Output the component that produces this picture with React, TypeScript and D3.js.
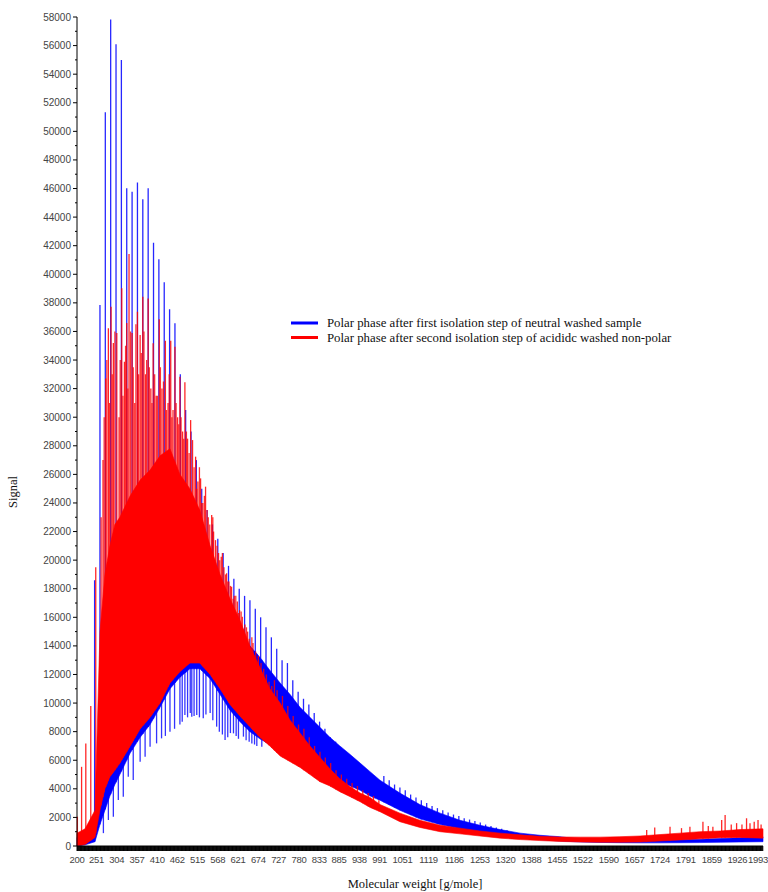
import React from 'react';
import * as d3 from 'd3';

const W = 768;
const H = 892;

const xTickLabels = [200, 251, 304, 357, 410, 462, 515, 568, 621, 674, 727, 780, 833, 885, 938, 991, 1051, 1119, 1186, 1253, 1320, 1388, 1455, 1522, 1590, 1657, 1724, 1791, 1859, 1926, 1993];
const yTickValues = d3.range(0, 58001, 2000);
const yMinorValues = d3.range(1000, 58000, 2000);

// envelope sample positions (molecular weight, g/mole)
const gridMz = [200, 221, 247, 260, 273, 286, 299, 312, 339, 365, 391, 417, 443, 469, 495, 521, 548, 574, 600, 626, 652, 678, 704, 731, 757, 783, 809, 835, 861, 887, 914, 940, 966, 992, 1044, 1096, 1149, 1201, 1253, 1306, 1358, 1410, 1462, 1515, 1567, 1619, 1672, 1724, 1776, 1828, 1881, 1933, 1993];

// blue: polar phase after first isolation step of neutral washed sample
const blueLo = [0, 80, 300, 1500, 2500, 3500, 4300, 5000, 6500, 7600, 8500, 9700, 11000, 11800, 12400, 12400, 11700, 10600, 9500, 8700, 8000, 7500, 7100, 6700, 6400, 6100, 5600, 5200, 4800, 4500, 4200, 3900, 3500, 3200, 2500, 1900, 1500, 1200, 950, 750, 600, 450, 350, 280, 250, 230, 220, 220, 230, 240, 260, 280, 300];
const blueHi = [600, 800, 1500, 4500, 7000, 9000, 10500, 11500, 13000, 14500, 15500, 16500, 17200, 17500, 17300, 16800, 16200, 15500, 15000, 14500, 14000, 13200, 12300, 11400, 10600, 9700, 9000, 8300, 7600, 7000, 6400, 5800, 5200, 4600, 3700, 2900, 2300, 1800, 1450, 1150, 900, 750, 650, 480, 430, 420, 420, 430, 450, 480, 520, 580, 650];
const blueSpikeStart = 246;
const blueSpikeStep = 14;
const blueSpikes = [18600, 37850, 51330, 57830, 56090, 54990, 46010, 45780, 46420, 45250, 46010, 42210, 41050, 39440, 37550, 36570, 33000, 30500, 29000, 27000, 25000, 23500, 22500, 21500, 20500, 19600, 18700, 18000, 17500, 17200, 16600, 16000, 15300, 14600, 13800, 13000, 12800, 11600, 10800, 10300, 9900, 9300, 8700, 8200, 7600, 7300, 6900, 6500, 6100, 5800, 5500, 5100, 4800, 4600, 4900, 4600, 4300, 4100, 3900, 3600, 3400, 3200, 3000, 2800, 2650, 2500, 2350, 2200, 2100, 1950, 1850, 1750, 1650, 1500, 1400, 1300, 1200, 1100];
const blueDipMz = [269, 282, 295, 308, 321, 334, 347, 365, 378, 391, 408, 421, 431, 443, 455, 469, 475, 482, 489, 496, 500, 506, 513, 520, 530, 537, 548, 555, 565, 572, 580, 587, 594, 601, 609, 616, 622, 635, 642, 650, 657, 664, 670, 683];
const blueDipVal = [900, 1820, 2050, 3220, 3450, 4850, 4620, 5900, 6250, 6950, 7180, 7530, 7700, 8000, 8200, 8500, 8700, 9160, 9000, 9300, 9050, 9100, 9160, 9000, 8930, 9200, 9300, 8800, 8350, 8000, 7800, 7420, 7600, 7900, 7880, 7700, 7500, 7650, 7400, 7300, 7180, 7100, 7000, 6950];

// red: polar phase after second isolation step of acidic washed non-polar
const redLo = [0, 100, 600, 2500, 4000, 4850, 5300, 5800, 7000, 8200, 9000, 10000, 11400, 12200, 12800, 12800, 12000, 11000, 9900, 9100, 8350, 7600, 7000, 6300, 5900, 5500, 5000, 4500, 4200, 3800, 3450, 3100, 2700, 2400, 1700, 1300, 1000, 850, 700, 550, 450, 380, 320, 280, 260, 260, 280, 350, 420, 500, 580, 600, 550];
const redHi = [900, 1200, 2500, 15000, 19000, 21000, 22500, 23000, 24500, 25600, 26300, 27300, 27800, 26000, 25000, 23500, 21000, 19000, 17300, 15800, 14000, 12500, 11000, 10000, 8800, 7900, 7000, 6200, 5400, 4700, 4150, 3700, 3400, 2900, 2300, 1800, 1450, 1250, 1050, 900, 780, 680, 630, 620, 620, 650, 700, 800, 900, 1000, 1050, 1150, 1200];
const redSpikeMz = [201, 212, 223, 236, 249, 263, 268, 275, 282, 289, 295, 304, 310, 317, 324, 330, 336, 344, 351, 358, 365, 372, 379, 386, 393, 399, 407, 415, 422, 431, 438, 445, 451, 456, 463, 469, 476, 482, 489, 497, 502, 510, 516, 523, 529, 536, 543, 552, 557, 562, 570, 577, 584, 591, 597, 604, 611, 619, 625, 632, 639, 646, 660, 674, 688, 702, 716, 723, 737, 751, 765, 779, 793, 807, 821, 835, 849, 863, 877, 891, 905, 919, 933, 947, 961, 975, 989, 1689, 1710, 1750, 1780, 1802, 1836, 1850, 1862, 1885, 1894, 1910, 1924, 1938, 1950, 1959, 1970, 1980, 1988];
const redSpikeVal = [2050, 5540, 7180, 9800, 19500, 23000, 27000, 32700, 36220, 37730, 35190, 35890, 30000, 39020, 33880, 36590, 41420, 35890, 31000, 37370, 35750, 38430, 33000, 38300, 32000, 35170, 31500, 36850, 32000, 35350, 31000, 35350, 30500, 34930, 30000, 32830, 29000, 32440, 28500, 29800, 28400, 27240, 25500, 25720, 24000, 25140, 23000, 23160, 22000, 21400, 20500, 20240, 19500, 19080, 18500, 18140, 17500, 17100, 16500, 16040, 15500, 15000, 14200, 13300, 12400, 11500, 11600, 10900, 10500, 9800, 9100, 8500, 8200, 7600, 7000, 6600, 6200, 5800, 5300, 5000, 4700, 4400, 4200, 3900, 3700, 3500, 3200, 1120, 1300, 1350, 1250, 1350, 1700, 1400, 1350, 1820, 2170, 1500, 1600, 1500, 1940, 1600, 1700, 1820, 1500];
const redMinorMz = [271, 278, 285, 292, 299, 313, 320, 327, 333, 340, 347, 354, 361, 368, 375, 382, 389, 396, 403, 410, 418, 426, 434, 441, 448, 459, 466, 472, 479, 486, 493, 506, 513, 520, 526, 533, 540, 547, 555, 566, 573, 580, 588, 594, 601, 608, 615, 622, 629, 636, 643, 650, 657, 667, 681, 695, 709];
const redMinorVal = [30000, 34000, 31000, 33000, 36000, 34000, 31500, 35000, 32000, 36000, 33500, 36500, 33000, 34500, 36000, 34000, 33500, 31000, 33000, 31500, 33500, 32500, 30500, 33000, 30000, 31000, 29500, 30000, 28500, 29000, 27500, 26500, 25000, 26500, 24000, 24500, 23500, 22500, 23000, 21000, 20000, 20500, 19000, 18500, 18200, 17300, 17500, 16300, 16400, 15200, 15300, 14500, 14600, 13600, 12800, 12000, 11200];

const legendItems = [
  { label: 'Polar phase after first isolation step of neutral washed sample', color: '#0000ff' },
  { label: 'Polar phase after second isolation step of acididc washed non-polar', color: '#ff0000' },
];

export default function App() {
  const x = d3.scaleLinear().domain([200, 1993]).range([77, 763]);
  const y = d3.scaleLinear().domain([0, 58000]).range([846, 17]);

  const band = (lo: number[], hi: number[]) =>
    d3.area<number>()
      .x((_, i) => x(gridMz[i]))
      .y0((_, i) => y(lo[i]))
      .y1((_, i) => y(hi[i]))(gridMz) || '';

  const envelope = (arr: number[]) => d3.scaleLinear().domain(gridMz).range(arr).clamp(true);
  const blueLoAt = envelope(blueLo);
  const blueHiAt = envelope(blueHi);
  const redLoAt = envelope(redLo);

  const blueSpikeMz = blueSpikes.map((_, i) => blueSpikeStart + i * blueSpikeStep);
  const denseTicks = d3.range(200, 1994, 1.5);

  const blue = '#0000ff';
  const red = '#ff0000';
  const sans = "'Liberation Sans', Arial, sans-serif";
  const serif = "'Liberation Serif', 'Times New Roman', serif";
  const last = xTickLabels.length - 1;

  return (
    <svg width={W} height={H} style={{ position: 'absolute', left: 0, top: 0, background: '#fff' }}>
      <rect x={0} y={0} width={W} height={H} fill="#fff" />

      {/* blue series */}
      <path d={band(blueLo, blueHi)} fill={blue} stroke={blue} strokeWidth={1} strokeOpacity={0.6} />
      {blueDipMz.map((m, i) => (
        <line key={'bd' + i} x1={x(m)} x2={x(m)} y1={y(blueHiAt(m))} y2={y(blueDipVal[i])} stroke={blue} strokeWidth={1.3} strokeOpacity={0.8} />
      ))}
      {blueSpikeMz.map((m, i) => (
        <line key={'bs' + i} x1={x(m)} x2={x(m)} y1={y(blueLoAt(m))} y2={y(blueSpikes[i])} stroke={blue} strokeWidth={1.3} strokeOpacity={0.85} />
      ))}

      {/* red series */}
      <path d={band(redLo, redHi)} fill={red} stroke={red} strokeWidth={1} strokeOpacity={0.6} />
      {redMinorMz.map((m, i) => (
        <line key={'rm' + i} x1={x(m)} x2={x(m)} y1={y(Math.max(redLoAt(m), 0))} y2={y(redMinorVal[i])} stroke={red} strokeWidth={1.3} strokeOpacity={0.8} />
      ))}
      {redSpikeMz.map((m, i) => (
        <line key={'rs' + i} x1={x(m)} x2={x(m)} y1={y(Math.max(redLoAt(m), 0))} y2={y(redSpikeVal[i])} stroke={red} strokeWidth={1.3} strokeOpacity={0.85} />
      ))}

      {/* y axis */}
      <line x1={77} x2={77} y1={y(58000)} y2={y(0)} stroke="#000" strokeWidth={1} />
      {yTickValues.map((v) => (
        <g key={'yt' + v}>
          <line x1={73} x2={77} y1={y(v)} y2={y(v)} stroke="#000" strokeWidth={1} />
          <text x={71} y={y(v) + 3.5} textAnchor="end" fontFamily={sans} fontSize={10} fill="#444">{v}</text>
        </g>
      ))}
      {yMinorValues.map((v) => (
        <line key={'ym' + v} x1={75} x2={77} y1={y(v)} y2={y(v)} stroke="#000" strokeWidth={1} />
      ))}

      {/* x axis */}
      <line x1={77} x2={763} y1={846} y2={846} stroke="#000" strokeWidth={1} />
      {denseTicks.map((v, i) => (
        <line key={'xt' + i} x1={x(v)} x2={x(v)} y1={846} y2={851} stroke="#000" strokeWidth={1} />
      ))}
      {xTickLabels.map((v, i) => (
        <text key={'xl' + v} x={i === last ? 768 : x(v)} y={863} textAnchor={i === last ? 'end' : 'middle'} fontFamily={sans} fontSize={9.5} letterSpacing={-0.3} fill="#444">{v}</text>
      ))}

      {/* axis titles */}
      <text x={415} y={888} textAnchor="middle" fontFamily={serif} fontSize={12.5} fill="#111">Molecular weight [g/mole]</text>
      <text transform="translate(17,492) rotate(-90)" textAnchor="middle" fontFamily={serif} fontSize={12.5} fill="#111">Signal</text>

      {/* legend */}
      {legendItems.map((it, i) => (
        <g key={'lg' + i} transform={`translate(0, ${i * 14.5})`}>
          <line x1={291} x2={318} y1={323} y2={323} stroke={it.color} strokeWidth={3} />
          <text x={327} y={327} fontFamily={serif} fontSize={12.8} fill="#111">{it.label}</text>
        </g>
      ))}
    </svg>
  );
}
